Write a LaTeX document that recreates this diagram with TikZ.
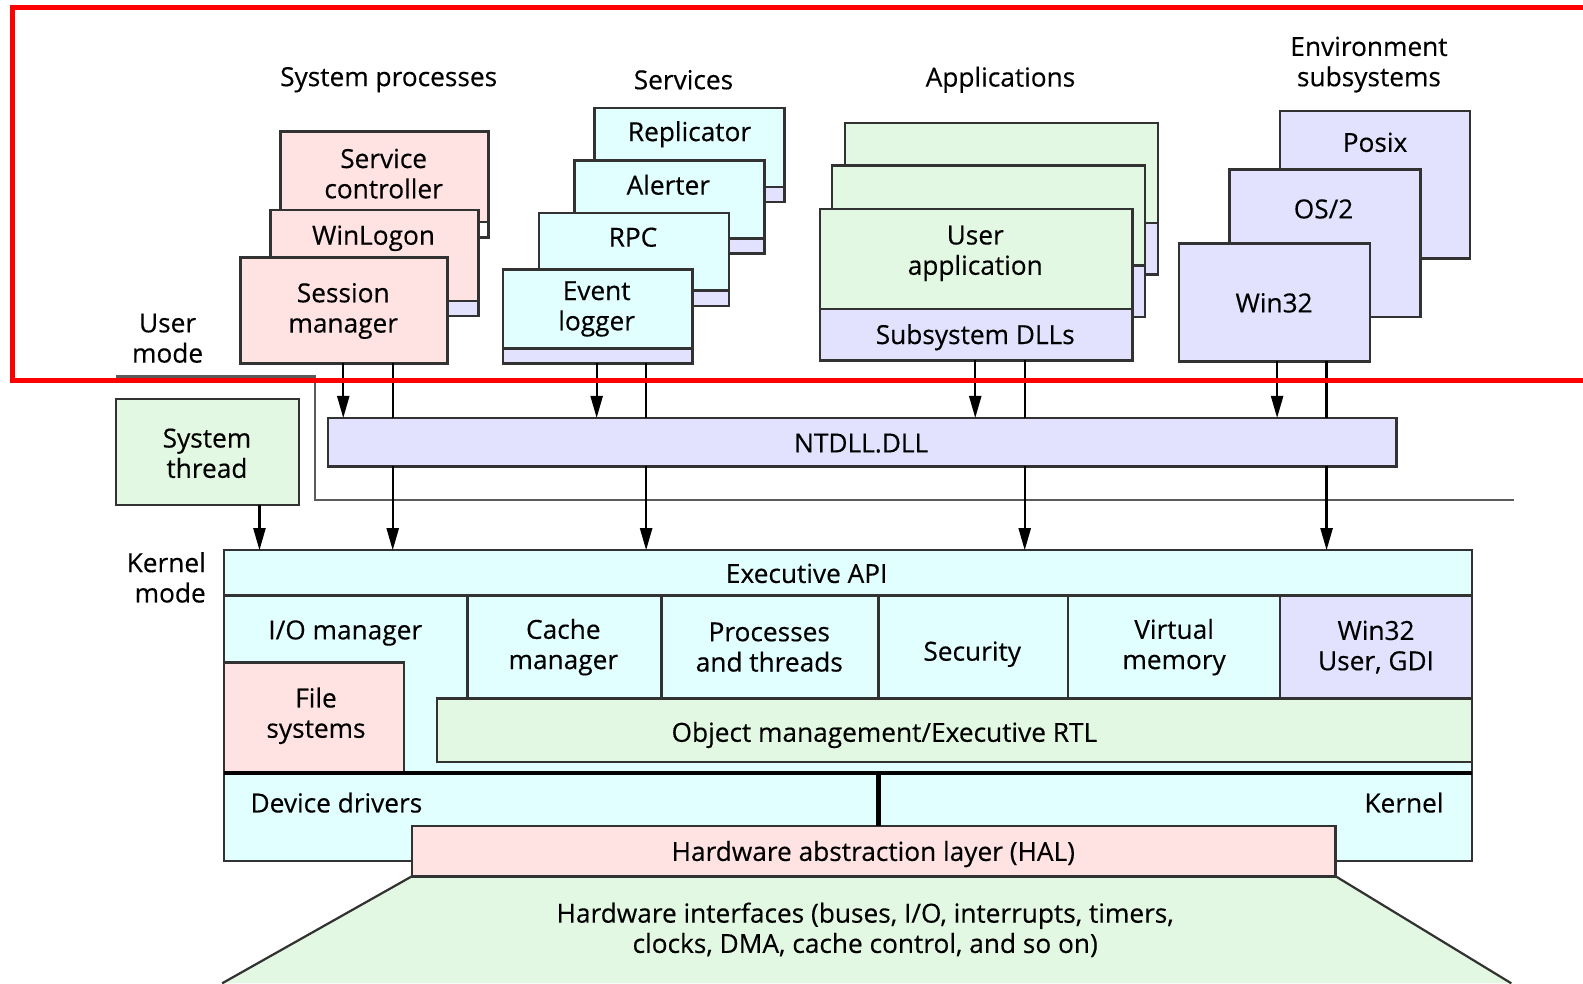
\documentclass[tikz,border=0pt]{standalone}
\usepackage{fontspec}
\setmainfont{Open Sans}
\newfontfamily\lblfont{Open Sans}[FakeBold=0.35]
\usetikzlibrary{arrows.meta, positioning}
\definecolor{boxpink}{RGB}{255,226,226}
\definecolor{boxcyan}{RGB}{226,255,255}
\definecolor{boxlav}{RGB}{226,226,255}
\definecolor{boxgreen}{RGB}{226,248,226}
\definecolor{edge}{RGB}{50,50,50}
\definecolor{markred}{RGB}{255,0,0}
\tikzset{
  box/.style={draw=edge, line width=2.5pt, inner sep=0pt, outer sep=0pt, anchor=north west},
  pinkbox/.style={box, fill=boxpink},
  cyanbox/.style={box, fill=boxcyan},
  lavbox/.style={box, fill=boxlav},
  greenbox/.style={box, fill=boxgreen},
  strip/.style={draw=edge, line width=2.5pt, fill=boxlav},
  lbl/.style={font=\lblfont\fontsize{26}{30}\selectfont, align=center, inner sep=0pt},
  wire/.style={line width=2.2pt},
  arr/.style={line width=2.2pt, -{Triangle[length=22pt,width=12pt]}}
}

\begin{document}
\begin{tikzpicture}[x=1pt, y=-1pt]
  \useasboundingbox (0,0) rectangle (1568,974);

  % headings
  \node[lbl] (hsys) at (385,79) {System processes};
  \node[lbl] (hsrv) at (677,79) {Services};
  \node[lbl] (happ) at (991,79) {Applications};
  \node[lbl] (henv) at (1356,64) {Environment\\subsystems};

  % system processes
  \node[pinkbox, minimum width=206pt, minimum height=105pt] (sc) at (278,130) {};
  \draw[strip, fill=white] ([yshift=15pt]sc.south west) rectangle (sc.south east);
  \node[pinkbox, minimum width=206pt, minimum height=105pt] (wl) at (268,208) {};
  \draw[strip] ([yshift=15pt]wl.south west) rectangle (wl.south east);
  \node[pinkbox, minimum width=205pt, minimum height=105pt] (sm) at (238,255) {};
  \node[lbl] (tsc) at (380,172) {Service\\controller};
  \node[lbl] (twl) at (370,236) {WinLogon};
  \node[lbl] (tsm) at (340,308) {Session\\manager};

  % services
  \node[cyanbox, minimum width=188pt, minimum height=93pt] (rep) at (589,107) {};
  \draw[strip] ([yshift=15pt]rep.south west) rectangle (rep.south east);
  \node[cyanbox, minimum width=188pt, minimum height=92pt] (alt) at (569,159) {};
  \draw[strip] ([yshift=15pt]alt.south west) rectangle (alt.south east);
  \node[cyanbox, minimum width=188pt, minimum height=92pt] (rpc) at (534,211) {};
  \draw[strip] ([yshift=15pt]rpc.south west) rectangle (rpc.south east);
  \node[cyanbox, minimum width=188pt, minimum height=93pt] (evl) at (498,267) {};
  \draw[strip] ([yshift=15pt]evl.south west) rectangle (evl.south east);
  \node[lbl] (trep) at (683,133) {Replicator};
  \node[lbl] (talt) at (662,183) {Alerter};
  \node[lbl] (trpc) at (627,235) {RPC};
  \node[lbl] (tevl) at (591,306) {Event\\logger};

  % applications
  \node[greenbox, minimum width=310pt, minimum height=150pt] (app3) at (837,122) {};
  \draw[strip] ([yshift=51pt]app3.south west) rectangle (app3.south east);
  \node[greenbox, minimum width=310pt, minimum height=150pt] (app2) at (824,164) {};
  \draw[strip] ([yshift=51pt]app2.south west) rectangle (app2.south east);
  \node[greenbox, minimum width=310pt, minimum height=150pt] (app1) at (812,207) {};
  \draw[strip] ([yshift=51pt]app1.south west) rectangle (app1.south east);
  \node[lbl] (tapp) at (966,251) {User\\application};
  \node[lbl] (tdll) at (966,334) {Subsystem DLLs};

  % environment subsystems
  \node[lavbox, minimum width=188pt, minimum height=146pt] (posix) at (1268,110) {};
  \node[lavbox, minimum width=189pt, minimum height=146pt] (os2) at (1218,168) {};
  \node[lavbox, minimum width=189pt, minimum height=117pt] (win32) at (1168,241) {};
  \node[lbl] (tposix) at (1362,141) {Posix};
  \node[lbl] (tos2) at (1311,207) {OS/2};
  \node[lbl] (twin32) at (1262,300) {Win32};

  % mode labels and boundary
  \node[lbl] (umode) at (166,335) {User\\mode};
  \node[lbl, align=right, anchor=east] (kmode) at (204,572) {Kernel\\mode};
  \draw[wire, draw=edge!80] (115,373) -- (312,373) -- (312,495) -- (1500,495);

  % system thread and ntdll
  \node[greenbox, minimum width=181pt, minimum height=105pt] (systhr) at (115,395) {};
  \node[lbl] (tsysthr) at (205,449) {System\\thread};
  \node[lavbox, minimum width=1058pt, minimum height=48pt] (ntdll) at (325,414) {};
  \node[lbl] (tntdll) at (853,439) {NTDLL.DLL};

  % executive
  \node[cyanbox, minimum width=1236pt, minimum height=45pt] (exapi) at (222,545) {};
  \node[lbl] (texapi) at (799,568) {Executive API};
  \node[cyanbox, minimum width=1236pt, minimum height=176pt] (exbody) at (222,590) {};
  \node[cyanbox, minimum width=192pt, minimum height=102pt] (cache) at (463,590) {};
  \node[cyanbox, minimum width=215pt, minimum height=102pt] (proc) at (655,590) {};
  \node[cyanbox, minimum width=188pt, minimum height=102pt] (sec) at (870,590) {};
  \node[cyanbox, minimum width=210pt, minimum height=102pt] (vm) at (1058,590) {};
  \node[lavbox, minimum width=190pt, minimum height=102pt] (gdi) at (1268,590) {};
  \node[greenbox, minimum width=1025pt, minimum height=63pt] (obj) at (433,692) {};
  \node[pinkbox, minimum width=178pt, minimum height=110pt] (fs) at (222,656) {};
  \node[lbl] (tio) at (342,627) {I/O manager};
  \node[lbl] (tcache) at (558,641) {Cache\\manager};
  \node[lbl] (tproc) at (762,641) {Processes\\and threads};
  \node[lbl] (tsec) at (963,648) {Security};
  \node[lbl] (tvm) at (1163,641) {Virtual\\memory};
  \node[lbl] (tgdi) at (1363,641) {Win32\\User, GDI};
  \node[lbl] (tfs) at (313,709) {File\\systems};
  \node[lbl] (tobj) at (876,728) {Object management/Executive RTL};

  % drivers, kernel, hal, hardware
  \node[cyanbox, minimum width=1236pt, minimum height=87pt] (kbody) at (222,766) {};
  \draw[line width=4pt] (kbody.north west) -- (kbody.north east);
  \node[lbl, anchor=west] (tdd) at (248,795) {Device drivers};
  \node[lbl, anchor=east] (tkern) at (1430,795) {Kernel};
  \coordinate (hwl) at (220,974);
  \coordinate (hwr) at (1497,974);
  \fill[boxgreen] (408,868) -- (1323,868) -- (hwr) -- (hwl) -- cycle;
  \node[pinkbox, minimum width=915pt, minimum height=50pt] (hal) at (408,818) {};
  \draw[wire, draw=edge] (hal.south west) -- (hwl) (hal.south east) -- (hwr);
  \coordinate (ksplit) at (870,0);
  \draw[line width=5pt] (kbody.north -| ksplit) -- (hal.north -| ksplit);
  \node[lbl] (thal) at (865,846) {Hardware abstraction layer (HAL)};
  \node[lbl] (thw) at (857,921) {Hardware interfaces (buses, I/O, interrupts, timers,\\clocks, DMA, cache control, and so on)};

  % connectors
  \coordinate (ax0) at (257,0);
  \coordinate (ax1) at (340,0);
  \coordinate (ax2) at (389,0);
  \coordinate (ax3) at (591,0);
  \coordinate (ax4) at (640,0);
  \coordinate (ax5) at (966,0);
  \coordinate (ax6) at (1015,0);
  \coordinate (ax7) at (1265,0);
  \coordinate (ax8) at (1314,0);
  \draw[arr] (systhr.south -| ax0) -- (exapi.north -| ax0);
  \draw[arr] (sm.south -| ax1) -- (ntdll.north -| ax1);
  \draw[wire] (sm.south -| ax2) -- (ntdll.north -| ax2);
  \draw[arr] (ntdll.south -| ax2) -- (exapi.north -| ax2);
  \draw[arr] (evl.south -| ax3) -- (ntdll.north -| ax3);
  \draw[wire] (evl.south -| ax4) -- (ntdll.north -| ax4);
  \draw[arr] (ntdll.south -| ax4) -- (exapi.north -| ax4);
  \draw[arr] (app1.south -| ax5) -- (ntdll.north -| ax5);
  \draw[wire] (app1.south -| ax6) -- (ntdll.north -| ax6);
  \draw[arr] (ntdll.south -| ax6) -- (exapi.north -| ax6);
  \draw[arr] (win32.south -| ax7) -- (ntdll.north -| ax7);
  \draw[wire] (win32.south -| ax8) -- (ntdll.north -| ax8);
  \draw[arr] (ntdll.south -| ax8) -- (exapi.north -| ax8);

  % red marking frame
  \draw[markred, line width=5pt] (1575,7) -- (12,7) -- (12,377) -- (1575,377);
\end{tikzpicture}
\end{document}
